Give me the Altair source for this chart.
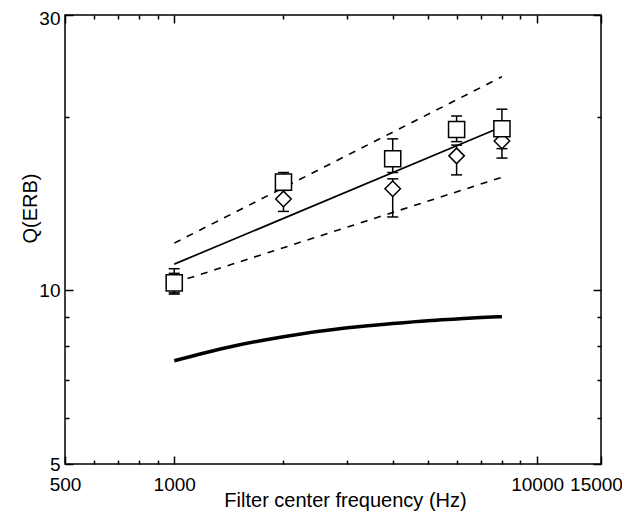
import altair as alt
import pandas as pd

# ---- data ----
freq = [1000, 2000, 4000, 6000, 8000]
q_square = [10.3, 15.4, 16.9, 19.0, 19.05]
q_square_hi = [10.9, 16.0, 18.3, 20.05, 20.6]
q_square_lo = [9.9, 14.9, 16.0, 18.1, 17.6]
q_diamond = [10.3, 14.4, 15.0, 17.1, 18.15]
q_diamond_hi = [10.7, 15.0, 15.6, 17.85, 18.8]
q_diamond_lo = [9.85, 13.7, 13.4, 15.85, 16.95]

fit_freq = [1000, 8000]
fit_mid = [11.1, 19.2]
fit_upper = [12.07, 23.45]
fit_lower = [10.3, 15.7]

erb_freq = [1000, 1400, 2000, 3000, 4000, 5000, 6000, 7000, 8000]
erb_q = [7.55, 7.96, 8.31, 8.61, 8.76, 8.86, 8.92, 8.97, 9.0]

x_ticks = [500, 600, 700, 800, 900, 1000, 2000, 3000, 4000, 5000, 6000, 7000,
           8000, 9000, 10000, 15000]
x_labels = [500, 1000, 10000, 15000]
y_ticks = [5, 6, 7, 8, 9, 10, 20, 30]
y_labels = [5, 10, 30]

FONT = "Liberation Sans"

# ---- tables ----
pts = pd.concat([
    pd.DataFrame({"f": freq, "q": q_square, "lo": q_square_lo, "hi": q_square_hi, "s": "square"}),
    pd.DataFrame({"f": freq, "q": q_diamond, "lo": q_diamond_lo, "hi": q_diamond_hi, "s": "diamond"}),
])
fits = pd.DataFrame({"f": fit_freq, "mid": fit_mid, "up": fit_upper, "low": fit_lower})
erb = pd.DataFrame({"f": erb_freq, "q": erb_q})

xs = alt.Scale(type="log", domain=[500, 15000], nice=False)
ys = alt.Scale(type="log", domain=[5, 30], nice=False)

x_lab_test = "indexof([" + ",".join(str(v) for v in x_labels) + "], datum.value) >= 0"
y_lab_test = "indexof([" + ",".join(str(v) for v in y_labels) + "], datum.value) >= 0"


def tick_dash(test):
    return {"condition": {"test": test, "value": [8, 0]}, "value": [0, 4, 4, 0]}


common = dict(domain=False, grid=False, offset=-8, tickSize=8, tickWidth=1.5,
              tickColor="black")

x_axis = alt.Axis(
    orient="bottom", values=x_ticks, format="d",
    labelExpr=x_lab_test + " ? format(datum.value, 'd') : ''",
    labelOffset={"condition": {"test": "datum.value == 15000", "value": -5}, "value": 0},
    tickDash=tick_dash(x_lab_test),
    labelPadding=11, labelFont=FONT, labelFontSize=19, labelColor="black",
    labelFlush=False, labelOverlap=False,
    title="Filter center frequency (Hz)", titleFont=FONT, titleFontSize=20,
    titleFontWeight="normal", titleColor="black",
    titleX=280, titleY=44, titleBaseline="middle", titleAlign="center",
    **common)
y_axis = alt.Axis(
    orient="left", values=y_ticks, format="d",
    labelExpr=y_lab_test + " ? format(datum.value, 'd') : ''",
    labelOffset={"condition": {"test": "datum.value == 30", "value": 3}, "value": 0},
    tickDash=tick_dash(y_lab_test),
    labelPadding=5, labelFont=FONT, labelFontSize=19, labelColor="black",
    labelFlush=False, labelOverlap=False,
    title="Q(ERB)", titleFont=FONT, titleFontSize=20,
    titleFontWeight="normal", titleColor="black",
    titleX=-43, titleY=193, titleBaseline="middle", titleAlign="center",
    **common)
x_axis_top = alt.Axis(orient="top", values=x_ticks, labels=False, title="",
                      tickDash=tick_dash(x_lab_test), **common)
y_axis_right = alt.Axis(orient="right", values=y_ticks, labels=False, title="",
                        tickDash=tick_dash(y_lab_test), **common)

# ---- layers ----
erb_line = alt.Chart(erb).mark_line(color="black", strokeWidth=3.5, interpolate="monotone").encode(
    x=alt.X("f:Q", scale=xs, axis=x_axis),
    y=alt.Y("q:Q", scale=ys, axis=y_axis),
)

mirror = alt.Chart(erb).mark_line(opacity=0).encode(
    x=alt.X("f:Q", scale=xs, axis=x_axis_top),
    y=alt.Y("q:Q", scale=ys, axis=y_axis_right),
)

err_rule = alt.Chart(pts).mark_rule(color="black", strokeWidth=1.5).encode(
    x=alt.X("f:Q", scale=xs, axis=None),
    y=alt.Y("lo:Q", scale=ys, axis=None),
    y2="hi:Q",
)
cap_hi = alt.Chart(pts).mark_tick(color="black", orient="horizontal", size=11, thickness=1.5, opacity=1).encode(
    x=alt.X("f:Q", scale=xs, axis=None),
    y=alt.Y("hi:Q", scale=ys, axis=None),
)
cap_lo = alt.Chart(pts).mark_tick(color="black", orient="horizontal", size=11, thickness=1.5, opacity=1).encode(
    x=alt.X("f:Q", scale=xs, axis=None),
    y=alt.Y("lo:Q", scale=ys, axis=None),
)

mid_line = alt.Chart(fits).mark_line(color="black", strokeWidth=1.7).encode(
    x=alt.X("f:Q", scale=xs, axis=None),
    y=alt.Y("mid:Q", scale=ys, axis=None),
)
up_line = alt.Chart(fits).mark_line(color="black", strokeWidth=1.6, strokeDash=[7, 7]).encode(
    x=alt.X("f:Q", scale=xs, axis=None),
    y=alt.Y("up:Q", scale=ys, axis=None),
)
low_line = alt.Chart(fits).mark_line(color="black", strokeWidth=1.6, strokeDash=[7, 7]).encode(
    x=alt.X("f:Q", scale=xs, axis=None),
    y=alt.Y("low:Q", scale=ys, axis=None),
)

diamonds = alt.Chart(pts).transform_filter(alt.datum.s == "diamond").mark_point(
    shape="diamond", filled=True, fill="white", stroke="black", strokeWidth=1.5,
    size=240, opacity=1).encode(
    x=alt.X("f:Q", scale=xs, axis=None),
    y=alt.Y("q:Q", scale=ys, axis=None),
)
squares = alt.Chart(pts).transform_filter(alt.datum.s == "square").mark_point(
    shape="square", filled=True, fill="white", stroke="black", strokeWidth=1.5,
    size=260, opacity=1).encode(
    x=alt.X("f:Q", scale=xs, axis=None),
    y=alt.Y("q:Q", scale=ys, axis=None),
)

chart = alt.layer(erb_line, mirror, err_rule, cap_hi, cap_lo, mid_line, up_line, low_line,
                  diamonds, squares).resolve_axis(x="independent", y="independent").properties(
    width=536, height=449,
    autosize=alt.AutoSizeParams(type="none"),
    padding={"left": 57, "top": 7, "right": 21, "bottom": 53},
    background="white",
).configure_view(stroke="black", strokeWidth=1.5)

chart.save("out.html", embed_options={"renderer": "svg", "actions": False})
